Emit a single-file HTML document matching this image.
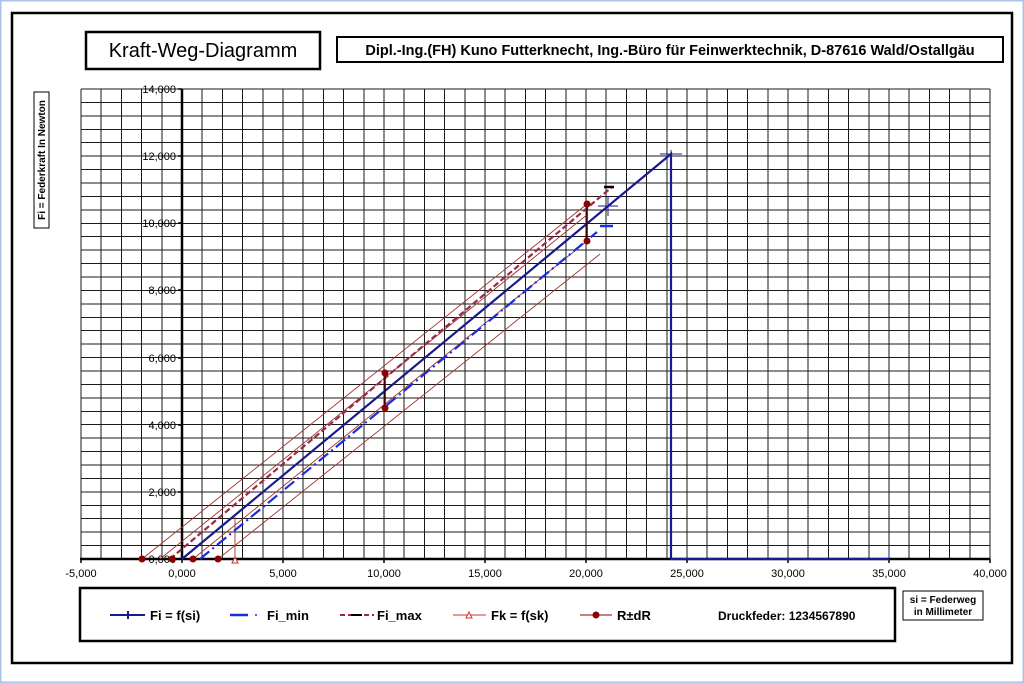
<!DOCTYPE html>
<html><head><meta charset="utf-8"><style>
body{margin:0;background:#fff;}
svg{display:block;font-family:"Liberation Sans",sans-serif;}
</style></head><body>
<svg width="1024" height="683" viewBox="0 0 1024 683" xmlns="http://www.w3.org/2000/svg">
<rect x="0" y="0" width="1024" height="683" fill="#fff"/>
<rect x="0.5" y="0.5" width="1023" height="682" fill="none" stroke="#a9c4e4" stroke-width="2"/>
<rect x="12" y="13" width="1000" height="650" fill="none" stroke="#000" stroke-width="2.5"/>
<rect x="86" y="32" width="234" height="37" fill="#fff" stroke="#000" stroke-width="2.5"/>
<text x="203" y="57" font-size="20" text-anchor="middle">Kraft-Weg-Diagramm</text>
<rect x="337" y="37" width="666" height="25" fill="#fff" stroke="#000" stroke-width="2"/>
<text x="670" y="55" font-size="14.5" font-weight="bold" text-anchor="middle">Dipl.-Ing.(FH) Kuno Futterknecht, Ing.-Büro für Feinwerktechnik, D-87616 Wald/Ostallgäu</text>
<rect x="34" y="92" width="15" height="136" fill="#fff" stroke="#000" stroke-width="1"/>
<text transform="translate(45,160) rotate(-90)" font-size="10" font-weight="bold" text-anchor="middle">Fi = Federkraft In Newton</text>
<g stroke="#1a1a1a" stroke-width="1" shape-rendering="crispEdges">
<path d="M81 89V559M101.2 89V559M121.4 89V559M141.6 89V559M161.8 89V559M202.2 89V559M222.4 89V559M242.6 89V559M262.8 89V559M283 89V559M303.2 89V559M323.4 89V559M343.6 89V559M363.8 89V559M384 89V559M404.2 89V559M424.4 89V559M444.6 89V559M464.8 89V559M485 89V559M505.2 89V559M525.4 89V559M545.6 89V559M565.8 89V559M586 89V559M606.2 89V559M626.4 89V559M646.6 89V559M666.8 89V559M687 89V559M707.2 89V559M727.4 89V559M747.6 89V559M767.8 89V559M788 89V559M808.2 89V559M828.4 89V559M848.6 89V559M868.8 89V559M889 89V559M909.2 89V559M929.4 89V559M949.6 89V559M969.8 89V559M990 89V559"/>
<path d="M81 89H990M81 102.4H990M81 115.9H990M81 129.3H990M81 142.7H990M81 156.1H990M81 169.6H990M81 183H990M81 196.4H990M81 209.9H990M81 223.3H990M81 236.7H990M81 250.1H990M81 263.6H990M81 277H990M81 290.4H990M81 303.9H990M81 317.3H990M81 330.7H990M81 344.1H990M81 357.6H990M81 371H990M81 384.4H990M81 397.9H990M81 411.3H990M81 424.7H990M81 438.1H990M81 451.6H990M81 465H990M81 478.4H990M81 491.9H990M81 505.3H990M81 518.7H990M81 532.1H990M81 545.6H990"/>
</g>
<g stroke="#000" stroke-width="2.5">
<path d="M182 89V560M80 559H990"/>
</g>
<g stroke="#000" stroke-width="1.5">
<path d="M178 89H182M178 156H182M178 223H182M178 290H182M178 358H182M178 425H182M178 492H182M178 559H182"/>
<path d="M81 559v4M182 559v4M283 559v4M384 559v4M485 559v4M586 559v4M687 559v4M788 559v4M889 559v4M990 559v4"/>
</g>
<g font-size="11" fill="#000" text-anchor="end">
<text x="176" y="93">14,000</text><text x="176" y="160">12,000</text><text x="176" y="227">10,000</text>
<text x="176" y="294">8,000</text><text x="176" y="362">6,000</text><text x="176" y="429">4,000</text>
<text x="176" y="496">2,000</text><text x="176" y="563">0,000</text>
</g>
<g font-size="11" fill="#000" text-anchor="middle">
<text x="81" y="577">-5,000</text><text x="182" y="577">0,000</text><text x="283" y="577">5,000</text>
<text x="384" y="577">10,000</text><text x="485" y="577">15,000</text><text x="586" y="577">20,000</text>
<text x="687" y="577">25,000</text><text x="788" y="577">30,000</text><text x="889" y="577">35,000</text><text x="990" y="577">40,000</text>
</g>
<g stroke="#a0342c" stroke-width="0.9" fill="none">
<path d="M142 559L587 204"/>
<path d="M193 559L587 241"/>
<path d="M218 559L600 254"/>
<path d="M160 559L588 214"/>
<path d="M235 559V517"/>
</g>
<path d="M170 559L612 187" stroke="#9a2a4a" stroke-width="2.2" stroke-dasharray="6,3" fill="none"/>
<path d="M604 187H614" stroke="#000" stroke-width="2.5"/>
<path d="M200 559L597 232" stroke="#1a2ee0" stroke-width="2.2" stroke-dasharray="12,4,2,4" fill="none"/>
<path d="M600 226H613" stroke="#1a2ee0" stroke-width="2.5"/>
<path d="M182 559L671 154V559H889" stroke="#1a1a8c" stroke-width="2.2" fill="none"/>
<path d="M660 154H682M671 150V158M598 206H618M608 196V216M889 550V560" stroke="#1a1a8c" stroke-width="1"/>
<path d="M385 373V408M587 204V241" stroke="#3a0000" stroke-width="1.5"/>
<g fill="#8b0000">
<circle cx="142" cy="559" r="3.5"/><circle cx="172" cy="559" r="3.5"/><circle cx="193" cy="559" r="3.5"/><circle cx="218" cy="559" r="3.5"/>
<circle cx="385" cy="373" r="3.5"/><circle cx="385" cy="408" r="3.5"/><circle cx="587" cy="204" r="3.5"/><circle cx="587" cy="241" r="3.5"/>
</g>
<path d="M232 563L235 557L238 563Z" fill="#fff" stroke="#d03030"/>
<rect x="80" y="588" width="815" height="53" fill="#fff" stroke="#000" stroke-width="2.5"/>
<g font-size="13" font-weight="bold">
<path d="M110 615H145M128 611V619" stroke="#1a1a8c" stroke-width="2"/>
<text x="150" y="620">Fi = f(si)</text>
<path d="M230 615H248" stroke="#1a2ee0" stroke-width="2.5"/><circle cx="256" cy="615" r="1" fill="#1a2ee0"/>
<text x="267" y="620">Fi_min</text>
<path d="M340 615H374" stroke="#9a2a4a" stroke-width="2" stroke-dasharray="5,3"/><path d="M351 615H362" stroke="#000" stroke-width="2"/>
<text x="377" y="620">Fi_max</text>
<path d="M453 615H486" stroke="#d03030" stroke-width="1"/><path d="M466 618L469 612L472 618Z" fill="#fff" stroke="#d03030"/>
<text x="491" y="620">Fk = f(sk)</text>
<path d="M580 615H612" stroke="#8b0000" stroke-width="1"/><circle cx="596" cy="615" r="3.5" fill="#8b0000"/>
<text x="617" y="620">R±dR</text>
<text x="718" y="620" font-size="12">Druckfeder: 1234567890</text>
</g>
<rect x="903" y="591" width="80" height="29" fill="#fff" stroke="#000" stroke-width="1"/>
<text x="943" y="603" font-size="10" font-weight="bold" text-anchor="middle">si = Federweg</text>
<text x="943" y="615" font-size="10" font-weight="bold" text-anchor="middle">in Millimeter</text>
</svg>
</body></html>
